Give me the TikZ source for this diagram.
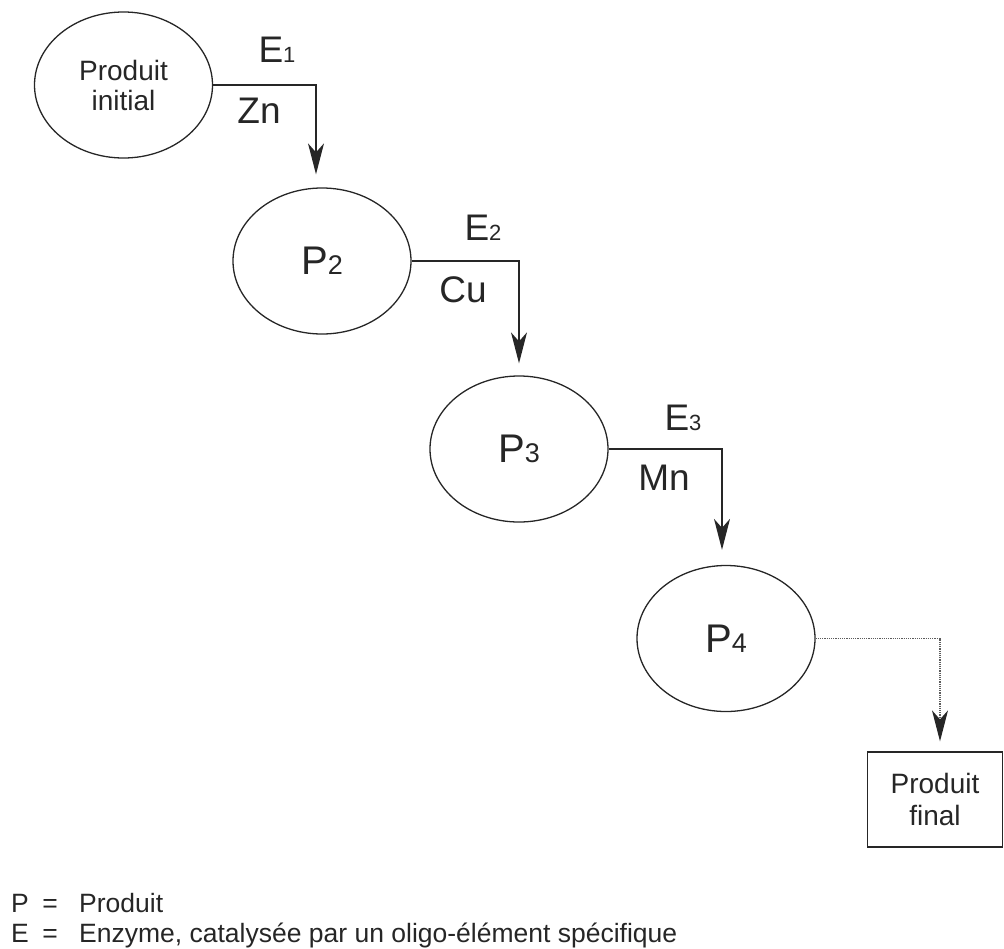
\documentclass[tikz,border=0pt]{standalone}
\usepackage{fontspec}
\setmainfont{Liberation Sans}
\usetikzlibrary{arrows.meta,shapes.geometric,calc}
\definecolor{ink}{HTML}{262626}
% small index digit sitting on the baseline
\newcommand{\idx}[2]{{\fontsize{#1}{#1}\selectfont #2}}
\begin{document}
\begin{tikzpicture}[x=1pt,y=-1pt,
  prod/.style={draw=ink, line width=1.3pt, ellipse, minimum width=178pt,
    minimum height=146pt, inner sep=0pt, text=ink, align=center},
  big/.style={font=\fontsize{40}{42}\selectfont},
  small/.style={font=\fontsize{28}{30}\selectfont},
  lbl/.style={text=ink, anchor=base, inner sep=0pt, font=\fontsize{37}{40}\selectfont},
  leg/.style={text=ink, anchor=base west, inner sep=0pt, font=\fontsize{26.5}{30}\selectfont},
  flow/.style={draw=ink, line width=1.5pt,
    -{Stealth[length=31pt,width=16pt,inset=9pt]}},
  lastflow/.style={draw=ink!75, line width=1.2pt, densely dotted,
    -{Stealth[length=31pt,width=16pt,inset=9pt,fill=ink,color=ink]}},
  finalbox/.style={draw=ink, line width=1.3pt, rectangle, minimum width=135pt,
    minimum height=95pt, inner sep=0pt, text=ink, align=center,
    font=\fontsize{28}{32}\selectfont}
]
\useasboundingbox (0,0) rectangle (1004,948);

% the chain of products
\node[prod, small] (e1) at (123.5,85) {Produit\\initial};
\node[prod, big]   (e2) at (322,261)   {P\idx{27}{2}};
\node[prod, big]   (e3) at (519,449)   {P\idx{27}{3}};
\node[prod, big]   (e4) at (726,638.5) {P\idx{27}{4}};
\node[finalbox]    (pf) at (935,799.5) {Produit\\final};

% enzymatic steps
\draw[flow] (e1.east) -| ($(e2.north)+(-6,-13)$);
\draw[flow] (e2.east) -| ($(e3.north)+(0,-12)$);
\draw[flow] (e3.east) -| ($(e4.north)+(-4,-15)$);
\draw[lastflow] (e4.east) -| ($(pf.north)+(5,-10)$);

% enzymes and trace elements
\node[lbl] (en1) at (277,62)  {E\idx{22}{1}};
\node[lbl] (me1) at (259,123) {Zn};
\node[lbl] (en2) at (483,240) {E\idx{22}{2}};
\node[lbl] (me2) at (463,302) {Cu};
\node[lbl] (en3) at (683,430) {E\idx{22}{3}};
\node[lbl] (me3) at (664,490) {Mn};

% legend
\node[leg] (lp)  at (11,912) {P};
\node[leg, anchor=base] (lpe) at (50,912) {=};
\node[leg] (lpt) at (79,912) {Produit};
\node[leg] (le)  at (11,942) {E};
\node[leg, anchor=base] (lee) at (50,942) {=};
\node[leg] (let) at (79,942) {Enzyme, catalysée par un oligo-élément spécifique};
\end{tikzpicture}
\end{document}
